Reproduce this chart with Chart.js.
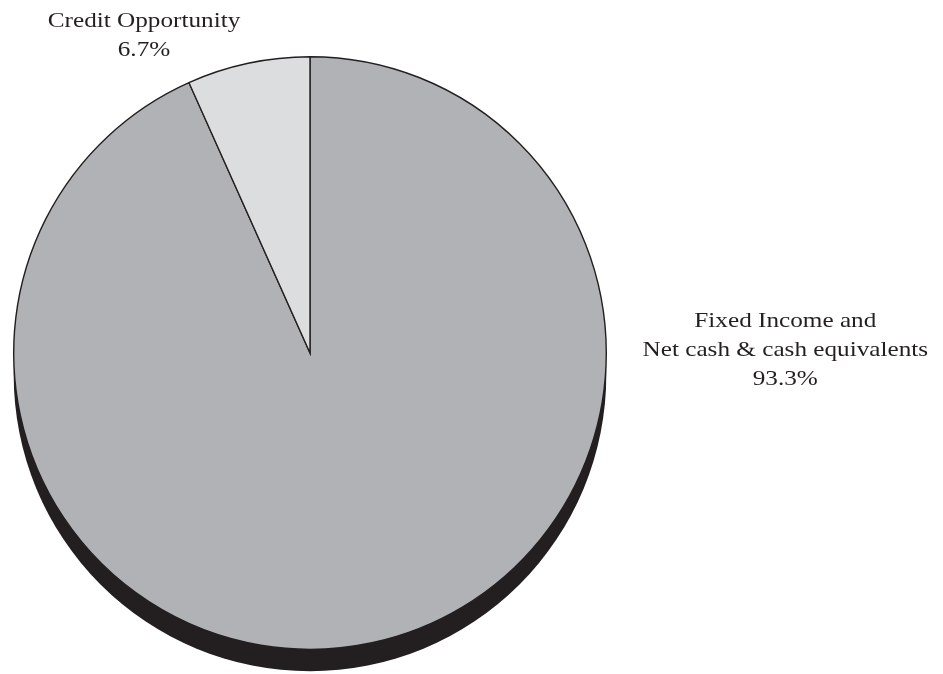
<!DOCTYPE html>
<html>
<head>
<meta charset="utf-8">
<script src="https://cdn.jsdelivr.net/npm/chart.js@4.4.0/dist/chart.umd.min.js"></script>
<style>
  html, body { margin: 0; padding: 0; background: #ffffff; }
  #wrap { width: 943px; height: 674px; position: relative; }
</style>
</head>
<body>
<div id="wrap"><canvas id="c" width="943" height="674"></canvas></div>
<script>
const categories = ["Fixed Income and\nNet cash & cash equivalents", "Credit Opportunity"];
const values = [93.3, 6.7];
const sliceColors = ["#b1b2b5", "#dcdddf"];

const shadowPlugin = {
  id: 'shadow3d',
  beforeDatasetsDraw(chart) {
    const arc = chart.getDatasetMeta(0).data[0];
    if (!arc) return;
    const ctx = chart.ctx;
    ctx.save();
    ctx.beginPath();
    ctx.arc(arc.x, arc.y + 22, arc.outerRadius, 0, Math.PI * 2);
    ctx.fillStyle = '#231f20';
    ctx.fill();
    ctx.restore();
  }
};

const labelPlugin = {
  id: 'sliceLabels',
  afterDatasetsDraw(chart) {
    const meta = chart.getDatasetMeta(0);
    const ctx = chart.ctx;
    ctx.save();
    ctx.font = '21px "Liberation Serif", "DejaVu Serif", serif';
    ctx.fillStyle = '#231f20';
    ctx.textAlign = 'center';
    ctx.textBaseline = 'middle';
    const lh = 29;
    const sx = 1.2;
    meta.data.forEach((arc, i) => {
      const lines = categories[i].split('\n').concat([values[i].toFixed(1) + '%']);
      let cx, cy;
      if (i === 0) {
        cx = arc.x + arc.outerRadius + 179;
        cy = arc.y - 3;
      } else {
        cx = arc.x - 166;
        cy = arc.y - arc.outerRadius - 21;
      }
      const top = cy - (lines.length - 1) * lh / 2;
      lines.forEach((t, k) => {
        ctx.save();
        ctx.translate(cx, top + k * lh);
        ctx.scale(sx, 1);
        ctx.fillText(t, 0, 0);
        ctx.restore();
      });
    });
    ctx.restore();
  }
};

new Chart(document.getElementById('c'), {
  type: 'pie',
  data: {
    labels: categories,
    datasets: [{
      data: values,
      backgroundColor: sliceColors,
      borderColor: '#231f20',
      borderWidth: 1.4,
      borderJoinStyle: 'miter'
    }]
  },
  options: {
    responsive: false,
    animation: false,
    layout: { padding: { left: 13, right: 336, top: 56, bottom: 24 } },
    plugins: {
      legend: { display: false },
      tooltip: { enabled: false },
      title: { display: false }
    }
  },
  plugins: [shadowPlugin, labelPlugin]
});
</script>
</body>
</html>
